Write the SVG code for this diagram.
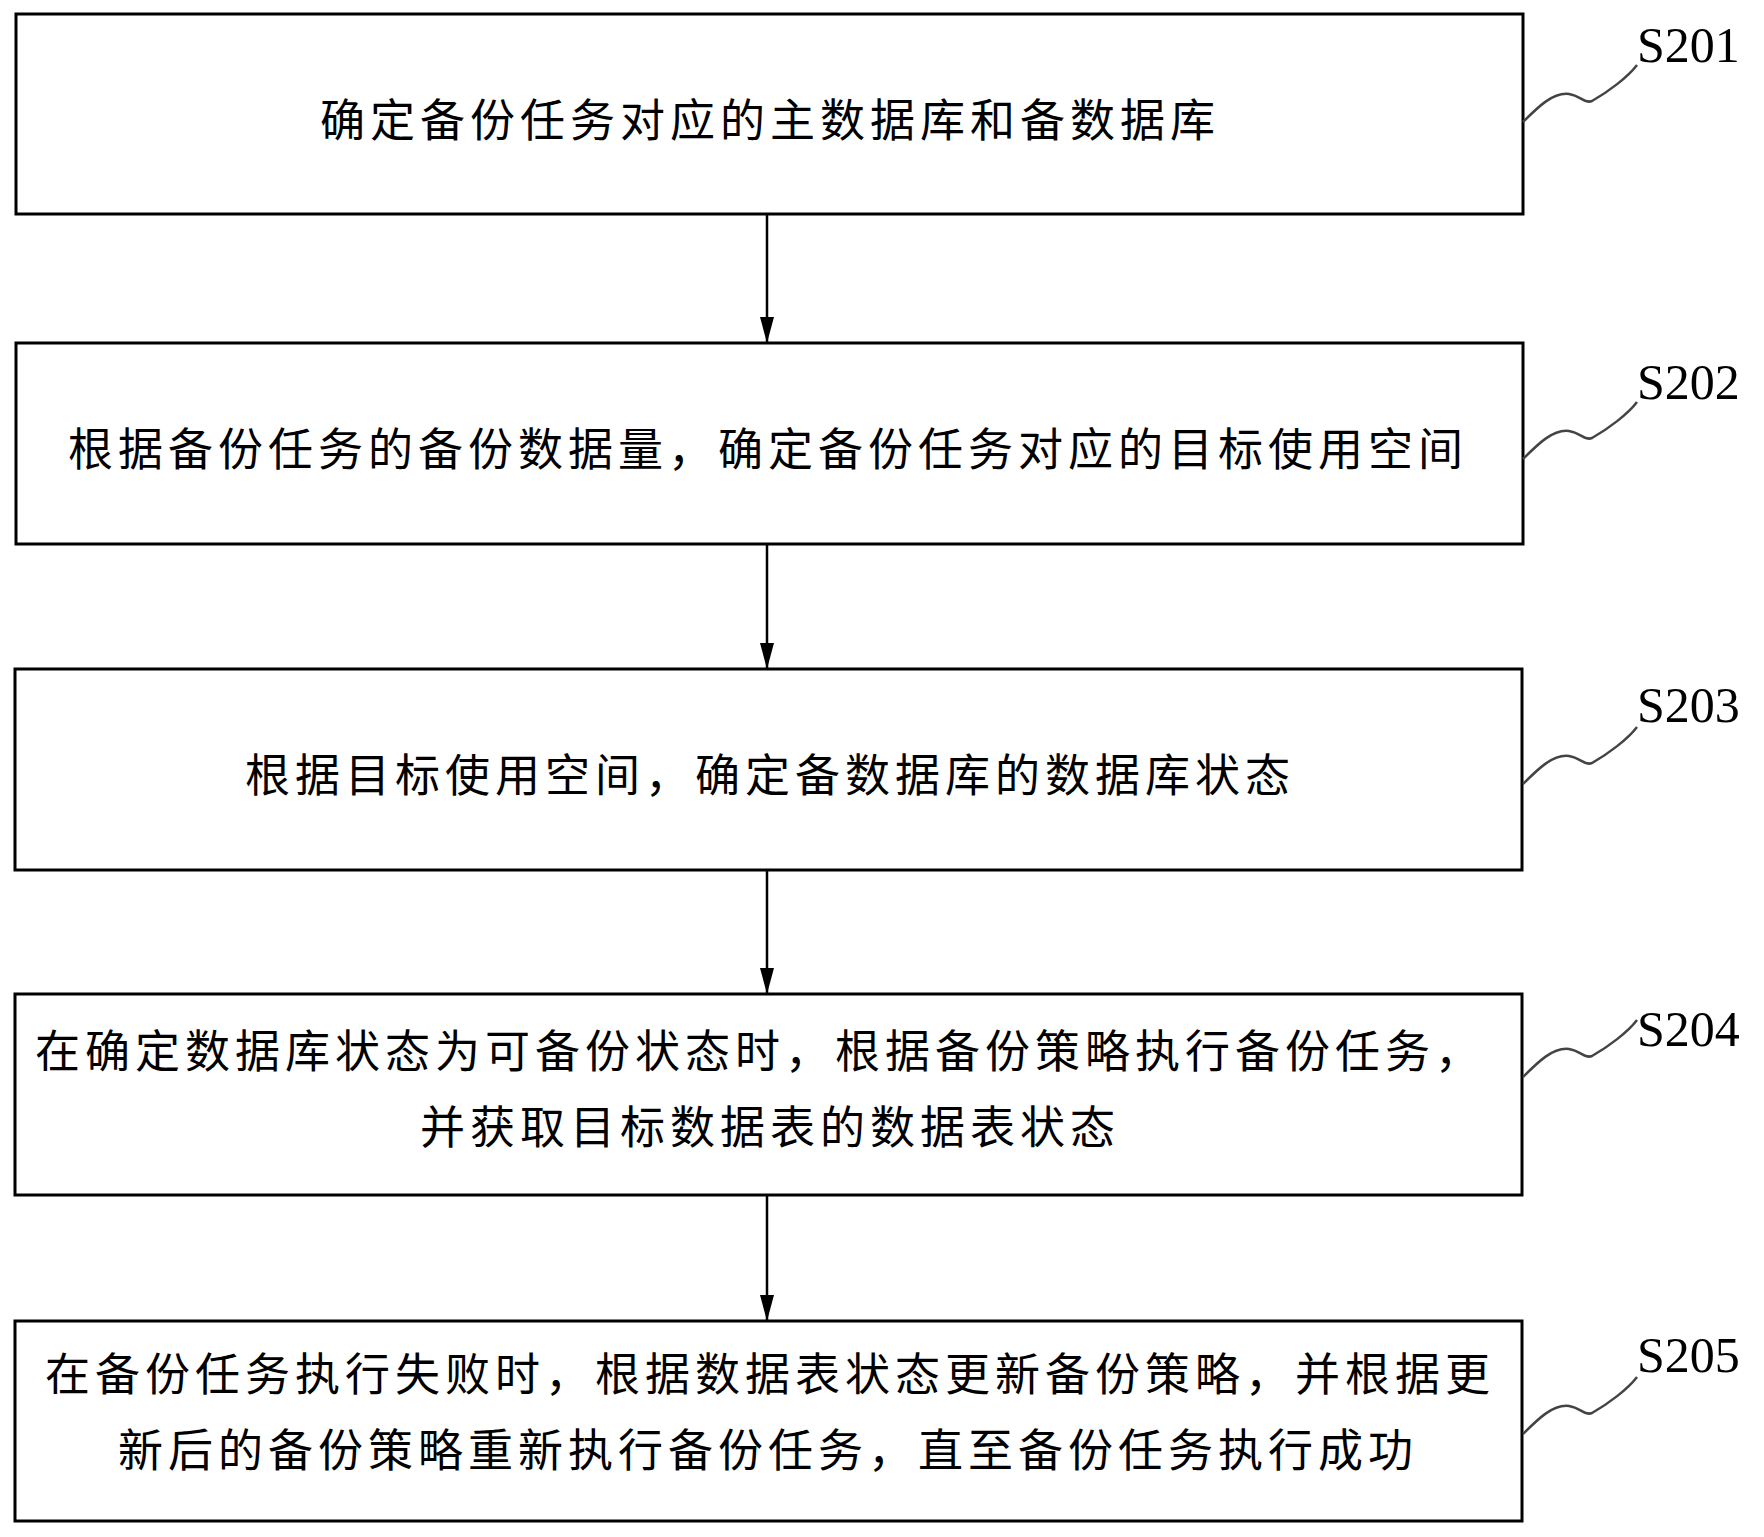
<svg xmlns="http://www.w3.org/2000/svg" width="1764" height="1537" viewBox="0 0 1764 1537">
<style>
.box{fill:#fff;stroke:#000;stroke-width:3}
.t{font-family:"Liberation Serif","Noto Sans CJK SC",serif;font-size:45px;letter-spacing:5px;text-anchor:middle;fill:#000}
.lbl{font-family:"Liberation Serif",serif;font-size:50px;fill:#000}
.sq{fill:none;stroke:#444;stroke-width:2.5}
.c{stroke:#000;stroke-width:2.5;fill:none;marker-end:url(#ah)}
</style>
<defs>
<marker id="ah" markerWidth="26" markerHeight="14" refX="26" refY="7" orient="auto" markerUnits="userSpaceOnUse" viewBox="0 0 26 14"><path d="M0,0 L26,7 L0,14 Z" fill="#000"/></marker>
<path id="squig" d="M0,0 C15,-15 30,-30 46,-28 C58,-26 62,-18 69,-21 C85,-30 105,-45 114,-57"/>
</defs>
<rect width="1764" height="1537" fill="#fff"/>
<g id="connectors">
<line class="c" x1="767" y1="214" x2="767" y2="343"/>
<line class="c" x1="767" y1="544" x2="767" y2="669"/>
<line class="c" x1="767" y1="870" x2="767" y2="994"/>
<line class="c" x1="767" y1="1195" x2="767" y2="1321"/>
</g>
<g id="S201"><rect class="box" x="16" y="14" width="1507" height="200"/>
<text class="t" x="770" y="137">确定备份任务对应的主数据库和备数据库</text>
<use href="#squig" class="sq" transform="translate(1523,122)"/>
<text class="lbl" x="1637" y="62">S201</text></g>
<g id="S202"><rect class="box" x="16" y="343" width="1507" height="201"/>
<text class="t" x="768" y="466">根据备份任务的备份数据量，确定备份任务对应的目标使用空间</text>
<use href="#squig" class="sq" transform="translate(1523,459)"/>
<text class="lbl" x="1637" y="399">S202</text></g>
<g id="S203"><rect class="box" x="15" y="669" width="1507" height="201"/>
<text class="t" x="770" y="792">根据目标使用空间，确定备数据库的数据库状态</text>
<use href="#squig" class="sq" transform="translate(1523,784)"/>
<text class="lbl" x="1637" y="722">S203</text></g>
<g id="S204"><rect class="box" x="15" y="994" width="1507" height="201"/>
<text class="t" x="760" y="1068">在确定数据库状态为可备份状态时，根据备份策略执行备份任务，</text>
<text class="t" x="770" y="1144">并获取目标数据表的数据表状态</text>
<use href="#squig" class="sq" transform="translate(1523,1077)"/>
<text class="lbl" x="1637" y="1046">S204</text></g>
<g id="S205"><rect class="box" x="15" y="1321" width="1507" height="200"/>
<text class="t" x="770" y="1391">在备份任务执行失败时，根据数据表状态更新备份策略，并根据更</text>
<text class="t" x="768" y="1467">新后的备份策略重新执行备份任务，直至备份任务执行成功</text>
<use href="#squig" class="sq" transform="translate(1523,1434)"/>
<text class="lbl" x="1637" y="1372">S205</text></g>
</svg>
